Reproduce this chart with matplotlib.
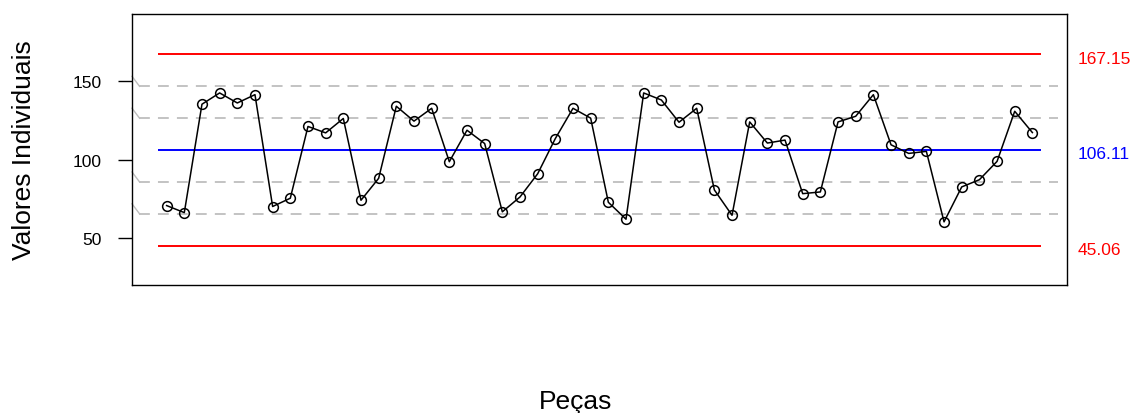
import numpy as np
import matplotlib.pyplot as plt
import matplotlib.transforms as mtransforms

plt.rcParams['font.family'] = ['Liberation Sans', 'DejaVu Sans']

# individual measurements, one per piece
pecas = np.arange(1, 51)
valores = [70.7, 66.2, 135.4, 142.6, 136.2, 141.5, 70.1, 75.4, 121.2, 117.1,
           126.3, 74.1, 88.1, 134.1, 124.6, 132.8, 98.7, 118.8, 110.3, 66.7,
           76.2, 91.0, 113.5, 132.8, 126.5, 72.8, 62.0, 142.6, 138.1, 123.9,
           132.8, 80.7, 64.5, 124.1, 110.6, 112.5, 78.3, 79.4, 124.1, 127.7,
           141.5, 109.5, 104.0, 105.3, 60.3, 82.6, 87.2, 98.9, 130.9, 117.3]

# control limits
lsc = 167.15
lc = 106.11
lic = 45.06
sigma = (lsc - lc) / 3
zonas = [lc - 2 * sigma, lc - sigma, lc + sigma, lc + 2 * sigma]

fig = plt.figure(figsize=(11.35, 4.14), dpi=100)
ax = fig.add_axes([0.1163, 0.3092, 0.8238, 0.6546])

ax.set_xlim(-0.96, 51.96)
ax.set_ylim(20, 193)

trans = mtransforms.blended_transform_factory(ax.transAxes, ax.transData)
for z in zonas:
    ax.plot([0.0075, 0.9904], [z, z], transform=trans, color='#BEBEBE',
            lw=1.3, dashes=(6, 4.5), zorder=1)
    # small slanted tick joining the axis to each sigma line
    ax.plot([0.0, 0.0081], [z + 6.4, z], transform=trans, color='#BEBEBE',
            lw=1.0, zorder=1, clip_on=False)

ax.hlines([lsc, lic], 0.5, 50.5, colors='#FF0000', lw=1.4, zorder=2)
ax.hlines(lc, 0.5, 50.5, colors='#0000FF', lw=1.4, zorder=2)

ax.plot(pecas, valores, color='black', lw=1.1, marker='o', markersize=7,
        markerfacecolor='none', markeredgecolor='black', markeredgewidth=1.1,
        zorder=3)

ax.text(1.0115, lsc - 2.3, f'{lsc:.2f}', transform=trans, color='#FF0000',
        fontsize=12.5, va='center', ha='left')
ax.text(1.0115, lc - 2.3, f'{lc:.2f}', transform=trans, color='#0000FF',
        fontsize=12.5, va='center', ha='left')
ax.text(1.0115, lic - 2.3, f'{lic:.2f}', transform=trans, color='#FF0000',
        fontsize=12.5, va='center', ha='left')

ax.set_xticks([])
ax.set_yticks([50, 100, 150])
ax.tick_params(axis='y', labelsize=12.5, length=10, width=1.0, pad=12)
for s in ax.spines.values():
    s.set_linewidth(1.0)

ax.set_ylabel('Valores Individuais', fontsize=19, labelpad=26)
fig.text(0.5068, 1 - 402 / 414, 'Peças', fontsize=19, ha='center', va='center')

fig.savefig('out.png', dpi=100)
